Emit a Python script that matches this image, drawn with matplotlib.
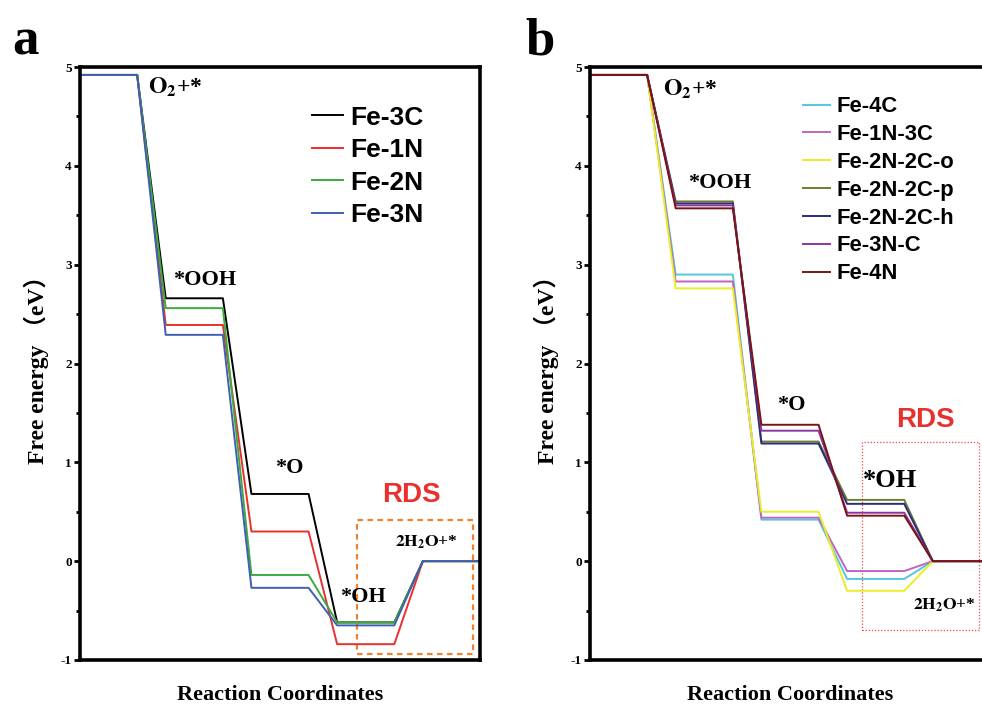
import matplotlib
matplotlib.use('Agg')
import matplotlib.pyplot as plt
from matplotlib.patches import Rectangle

plt.rcParams['mathtext.fontset'] = 'stix'
plt.rcParams['axes.unicode_minus'] = False

# reaction steps: O2+*, *OOH, *O, *OH, 2H2O+*
steps = ['O2+*', '*OOH', '*O', '*OH', '2H2O+*']

# panel a
names_a = ['Fe-3C', 'Fe-1N', 'Fe-2N', 'Fe-3N']
energy_a = [
    [4.92, 2.66, 0.68, -0.62, 0.0],
    [4.92, 2.39, 0.30, -0.84, 0.0],
    [4.92, 2.56, -0.14, -0.62, 0.0],
    [4.92, 2.29, -0.27, -0.65, 0.0],
]
colors_a = ['#000000', '#e8302e', '#3cab3c', '#3f5fb2']

# panel b
names_b = ['Fe-4C', 'Fe-1N-3C', 'Fe-2N-2C-o', 'Fe-2N-2C-p', 'Fe-2N-2C-h', 'Fe-3N-C', 'Fe-4N']
energy_b = [
    [4.92, 2.90, 0.42, -0.18, 0.0],
    [4.92, 2.83, 0.44, -0.10, 0.0],
    [4.92, 2.76, 0.50, -0.30, 0.0],
    [4.92, 3.64, 1.21, 0.62, 0.0],
    [4.92, 3.62, 1.19, 0.58, 0.0],
    [4.92, 3.60, 1.32, 0.49, 0.0],
    [4.92, 3.57, 1.38, 0.46, 0.0],
]
colors_b = ['#52c8dc', '#c064c4', '#ecec28', '#6e7d2e', '#2c2c78', '#8a36a0', '#7a1414']


def step_path(energies):
    xs, ys = [], []
    for i, e in enumerate(energies):
        xs += [3 * i, 3 * i + 2]
        ys += [e, e]
    return xs, ys


serif_bold = dict(family=['Liberation Serif', 'Noto Sans CJK SC'], weight='bold')
sans_bold = dict(family='Liberation Sans', weight='bold')


def style_axes(ax):
    ax.set_xlim(0, 14)
    ax.set_ylim(-1, 5)
    for s in ax.spines.values():
        s.set_linewidth(2.6)
    ax.set_xticks([])
    ax.set_yticks(range(-1, 6))
    ax.set_yticks([-0.5, 0.5, 1.5, 2.5, 3.5, 4.5], minor=True)
    ax.tick_params(axis='y', which='major', direction='out', length=4, width=2, pad=2)
    ax.tick_params(axis='y', which='minor', direction='out', length=3, width=2)
    for lab in ax.get_yticklabels():
        lab.set_fontfamily('Liberation Serif')
        lab.set_fontweight('bold')
        lab.set_fontsize(9.5)
    ax.set_ylabel('Free energy （eV）', fontsize=17, labelpad=8, **serif_bold)
    ax.set_xlabel('Reaction Coordinates', fontsize=16, labelpad=18, **serif_bold)


fig = plt.figure(figsize=(9.82, 7.07), dpi=100)
ax1 = fig.add_axes([0.0815, 0.0665, 0.4073, 0.8387])
ax2 = fig.add_axes([0.6008, 0.0665, 0.4073, 0.8387])

for name, e, c in zip(names_a, energy_a, colors_a):
    xs, ys = step_path(e)
    ax1.plot(xs, ys, color=c, lw=1.4, label=name)
for name, e, c in zip(names_b, energy_b, colors_b):
    xs, ys = step_path(e)
    ax2.plot(xs, ys, color=c, lw=1.4, label=name)

style_axes(ax1)
style_axes(ax2)

ax1.legend(loc='upper left', bbox_to_anchor=(0.548, 0.957), frameon=False,
           prop=dict(family='Liberation Sans', weight='bold', size=19),
           handlelength=1.15, handletextpad=0.3, labelspacing=0.32, borderpad=0)
ax2.legend(loc='upper left', bbox_to_anchor=(0.505, 0.969), frameon=False,
           prop=dict(family='Liberation Sans', weight='bold', size=15.8),
           handlelength=1.25, handletextpad=0.3, labelspacing=0.31, borderpad=0)

# annotations panel a
ax1.text(2.38, 4.79, r'$\mathbf{O_2}$+*', fontsize=17, ha='left', va='center', **serif_bold)
ax1.text(3.26, 2.84, '*OOH', fontsize=16, ha='left', va='center', **serif_bold)
ax1.text(6.83, 0.94, '*O', fontsize=16, ha='left', va='center', **serif_bold)
ax1.text(9.1, -0.36, '*OH', fontsize=16, ha='left', va='center', **serif_bold)
ax1.text(11.61, 0.67, 'RDS', fontsize=20, color='#e8302e', ha='center', va='center', **sans_bold)
ax1.text(11.03, 0.19, r'$\mathbf{2H_2O}$+*', fontsize=12.5, ha='left', va='center', **serif_bold)
ax1.add_patch(Rectangle((9.69, -0.94), 13.77 - 9.69, 0.415 + 0.94, fill=False,
                        edgecolor='#f0822e', lw=1.6, ls=(0, (2.5, 2))))

# annotations panel b
ax2.text(2.56, 4.77, r'$\mathbf{O_2}$+*', fontsize=17, ha='left', va='center', **serif_bold)
ax2.text(3.43, 3.83, '*OOH', fontsize=16, ha='left', va='center', **serif_bold)
ax2.text(6.55, 1.58, '*O', fontsize=16, ha='left', va='center', **serif_bold)
ax2.text(9.56, 0.82, '*OH', fontsize=19, ha='left', va='center', **serif_bold)
ax2.text(11.73, 1.43, 'RDS', fontsize=20, color='#e8302e', ha='center', va='center', **sans_bold)
ax2.text(11.31, -0.45, r'$\mathbf{2H_2O}$+*', fontsize=12.5, ha='left', va='center', **serif_bold)
ax2.add_patch(Rectangle((9.52, -0.70), 13.62 - 9.52, 1.21 + 0.70, fill=False,
                        edgecolor='#f04a4a', lw=0.9, ls=(0, (1, 1.5))))

fig.text(0.012, 0.975, 'a', fontsize=38, ha='left', va='top', **serif_bold)
fig.text(0.535, 0.975, 'b', fontsize=38, ha='left', va='top', **serif_bold)

fig.savefig('out.png', dpi=100)
